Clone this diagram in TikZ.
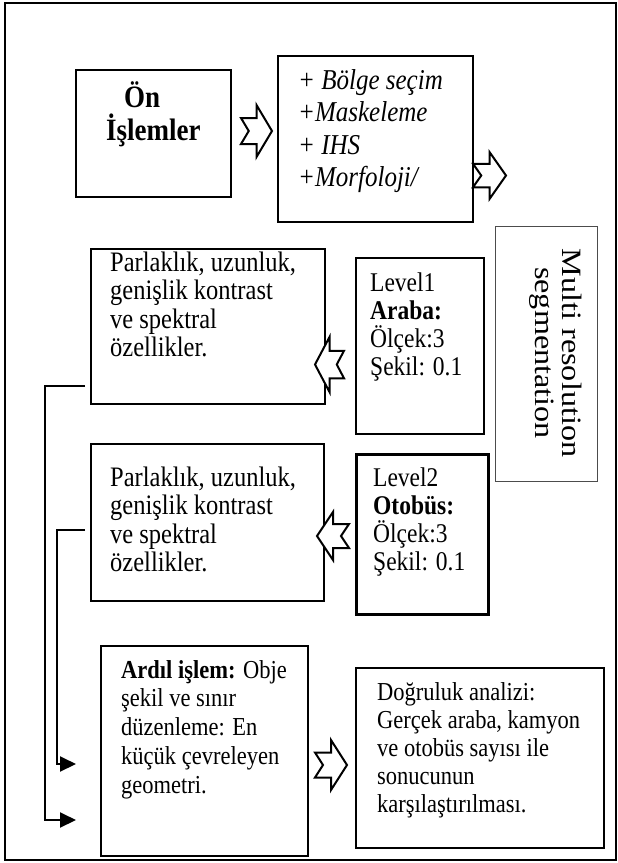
\documentclass[tikz,border=0pt]{standalone}
\usepackage{fontspec}
\setmainfont{Liberation Serif}
\usepackage{graphicx}
\usetikzlibrary{arrows.meta,calc}
\newcommand{\tlines}[1]{\scalebox{1}[1.15]{\vtop{\lineskiplimit=-\maxdimen\lineskip=0pt\halign{##\hfil\cr#1\crcr}}}}
\newcommand{\clines}[1]{\scalebox{1.15}[1]{\vbox{\lineskiplimit=-\maxdimen\lineskip=0pt\halign{\hfil##\hfil\cr#1\crcr}}}}
\newcommand{\chevR}[4]{\draw[chev] (#1,{#2+0.25*#4}) -- ({#1+0.5*#3},{#2+0.25*#4}) -- ({#1+0.5*#3},#2) -- ({#1+#3},{#2+0.5*#4}) -- ({#1+0.5*#3},{#2+#4}) -- ({#1+0.5*#3},{#2+0.75*#4}) -- (#1,{#2+0.75*#4}) -- ({#1+0.25*#3},{#2+0.5*#4}) -- cycle;}
\newcommand{\chevL}[4]{\draw[chev] ({#1+#3},{#2+0.25*#4}) -- ({#1+0.5*#3},{#2+0.25*#4}) -- ({#1+0.5*#3},#2) -- (#1,{#2+0.5*#4}) -- ({#1+0.5*#3},{#2+#4}) -- ({#1+0.5*#3},{#2+0.75*#4}) -- ({#1+#3},{#2+0.75*#4}) -- ({#1+0.75*#3},{#2+0.5*#4}) -- cycle;}
\begin{document}
\begin{tikzpicture}[x=1pt,y=-1pt,
  box/.style={draw, line width=2.2pt, inner sep=0pt, anchor=north west},
  txt/.style={inner sep=0pt, anchor=base west},
  ptxt/.style={txt, font=\fontsize{24.5}{24.8}\selectfont},
  ltxt/.style={txt, font=\fontsize{23.5}{24.6}\selectfont},
  btxt/.style={txt, font=\fontsize{22.5}{25}\selectfont},
  chev/.style={draw, fill=white, line width=2pt, line join=miter},
  conn/.style={line width=2pt, -{Triangle[length=16pt,width=15pt]}}]
\useasboundingbox (0,0) rectangle (618,863);
\fill[white] (0,0) rectangle (618,863);
\node[draw, line width=1.8pt, inner sep=0pt, anchor=north west, minimum width=611pt, minimum height=857pt] (frame) at (4,2) {};
% boxes
\node[box, minimum width=155pt, minimum height=127pt] (on) at (75,69) {};
\node[box, minimum width=195pt, minimum height=166pt] (b2) at (277,55) {};
\node[draw=black!70, line width=1.2pt, inner sep=0pt, anchor=north west, minimum width=102pt, minimum height=255pt] (multi) at (495,226) {};
\node[box, minimum width=234pt, minimum height=155pt] (p1) at (90,248) {};
\node[box, minimum width=128pt, minimum height=176pt] (l1) at (355,257) {};
\node[box, minimum width=233pt, minimum height=157pt] (p2) at (90,443) {};
\node[box, line width=3.2pt, minimum width=132pt, minimum height=160pt] (l2) at (355,453) {};
\node[box, minimum width=207pt, minimum height=210pt] (ard) at (100,645) {};
\node[box, minimum width=248pt, minimum height=180pt] (dog) at (355,667) {};
% texts
\node[txt, font=\fontsize{27}{28.7}\selectfont\bfseries] (t-on) at (106,107) {\tlines{\hspace*{18pt}Ön\cr İşlemler}};
\node[txt, font=\fontsize{25}{28.4}\selectfont\itshape] (t-b2) at (298,89) {\tlines{+ Bölge seçim\cr +Maskeleme\cr + IHS\cr +Morfoloji/}};
\node[inner sep=0pt, font=\fontsize{28}{27}\selectfont, rotate=-90] (t-multi) at (556,353) {\clines{Multi resolution\cr segmentation}};
\node[ptxt] (t-p1) at (110,271) {\tlines{Parlaklık, uzunluk,\cr genişlik kontrast\cr ve spektral\cr özellikler.}};
\node[ltxt] (t-l1) at (370,291) {\tlines{Level1\cr \textbf{Araba:}\cr Ölçek:3\cr Şekil: 0.1}};
\node[ptxt] (t-p2) at (110,486) {\tlines{Parlaklık, uzunluk,\cr genişlik kontrast\cr ve spektral\cr özellikler.}};
\node[ltxt] (t-l2) at (373,486) {\tlines{Level2\cr \textbf{Otobüs:}\cr Ölçek:3\cr Şekil: 0.1}};
\node[btxt] (t-ard) at (121,678) {\tlines{\textbf{Ardıl işlem:} Obje\cr şekil ve sınır\cr düzenleme: En\cr küçük çevreleyen\cr geometri.}};
\node[btxt, font=\fontsize{22.5}{24.4}\selectfont] (t-dog) at (377,700) {\tlines{Doğruluk analizi:\cr Gerçek araba, kamyon\cr ve otobüs sayısı ile\cr sonucunun\cr karşılaştırılması.}};
% chevrons
\chevR{241}{105}{31}{52}
\chevR{473}{152}{33}{47}
\chevL{315}{337}{29}{55}
\chevL{317}{512}{32}{48}
\chevR{315}{740}{32}{50}
% connectors
\coordinate (a1) at (76,820);
\coordinate (a2) at (76,764);
\draw[conn] ($(p1.south west)+(-5,-19)$) -- ++(-40,0) |- (a1);
\draw[conn] ($(p2.south west)+(-5,-72)$) -- ++(-28,0) |- (a2);
\end{tikzpicture}
\end{document}
